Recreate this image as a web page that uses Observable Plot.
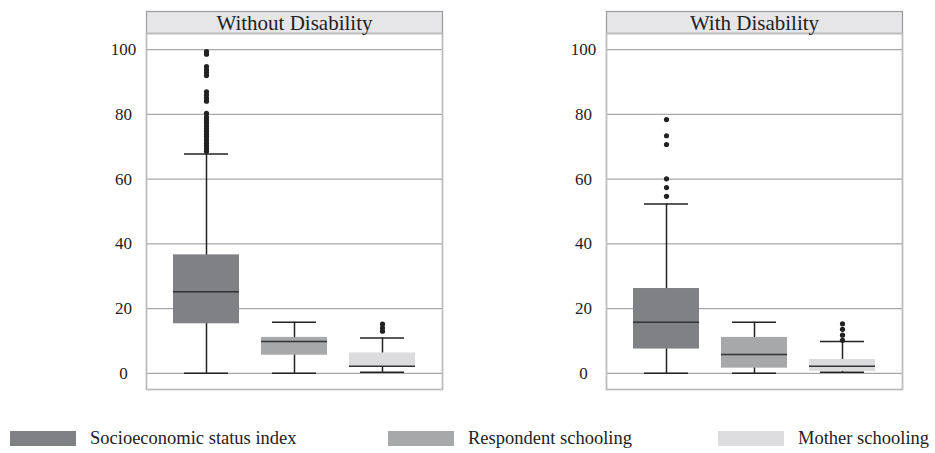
<!DOCTYPE html>
<html>
<head>
<meta charset="utf-8">
<script src="https://cdn.jsdelivr.net/npm/d3@7"></script>
<script src="https://cdn.jsdelivr.net/npm/@observablehq/plot@0.6"></script>
<style>
  html, body { margin: 0; padding: 0; background: #fff; }
  #wrap { position: relative; width: 935px; height: 453px; font-family: "Liberation Serif", serif; color: #222; }
  .item { position: absolute; top: 428px; display: flex; align-items: center; font-size: 18.5px; }
  .sw { width: 66px; height: 15px; margin-right: 14px; }
</style>
</head>
<body>
<div id="wrap"><div id="chart"></div><div id="legend"></div></div>
<script>
const panels = ["Without Disability", "With Disability"];
const series = ["Socioeconomic status index", "Respondent schooling", "Mother schooling"];
const seriesColors = ["#808184", "#a7a8aa", "#dcdcde"];
const yTicks = [0, 20, 40, 60, 80, 100];

// Without Disability (per series)
const lowWithout = [0, 0, 0.3];
const q1Without = [15.3, 5.6, 1.8];
const medianWithout = [25.2, 9.8, 2.2];
const q3Without = [36.6, 11.1, 6.3];
const highWithout = [67.8, 15.8, 10.9];
// With Disability (per series)
const lowWith = [0, 0, 0.3];
const q1With = [7.5, 1.6, 0.6];
const medianWith = [15.8, 5.8, 2.2];
const q3With = [26.2, 11.1, 4.3];
const highWith = [52.3, 15.8, 9.8];

// Outliers
const outSesWithout = [68.6, 69.4, 70.3, 71.2, 72.1, 73.0, 73.9, 74.8, 75.6, 76.5, 77.4, 78.3, 79.2, 80.3,
                       84.1, 85.0, 86.0, 87.0, 92.0, 92.9, 93.8, 94.8, 98.6, 99.4];
const outMotherWithout = [13.0, 14.0, 15.2];
const outSesWith = [54.7, 57.4, 60.1, 70.7, 73.4, 78.4];
const outMotherWith = [10.2, 11.8, 13.6, 15.3];

const stats = [];
series.forEach((s, i) => {
  stats.push({panel: panels[0], series: s, low: lowWithout[i], q1: q1Without[i], median: medianWithout[i], q3: q3Without[i], high: highWithout[i]});
  stats.push({panel: panels[1], series: s, low: lowWith[i], q1: q1With[i], median: medianWith[i], q3: q3With[i], high: highWith[i]});
});
const outliers = [
  ...outSesWithout.map(v => ({panel: panels[0], series: series[0], value: v})),
  ...outMotherWithout.map(v => ({panel: panels[0], series: series[2], value: v})),
  ...outSesWith.map(v => ({panel: panels[1], series: series[0], value: v})),
  ...outMotherWith.map(v => ({panel: panels[1], series: series[2], value: v}))
];

const H = 400, MT = 33, MB = 11;
const chart = Plot.plot({
  width: 935,
  height: H,
  marginLeft: 146,
  marginRight: 33,
  marginTop: MT,
  marginBottom: MB,
  style: {fontFamily: "Liberation Serif, serif", fontSize: "17px", color: "#222", background: "#fff"},
  fx: {domain: panels, paddingInner: 164 / 460, paddingOuter: 0, label: null},
  x: {domain: series, paddingInner: 0.25, paddingOuter: 0.305, axis: null},
  y: {domain: [-5, 105], label: null},
  color: {domain: series, range: seriesColors},
  marks: [
    Plot.frame({fill: "#e6e6e8", stroke: "#9c9c9c", strokeWidth: 1.2, insetTop: -22, insetBottom: H - MT - MB}),
    Plot.gridY(yTicks, {stroke: "#a8a8a8", strokeOpacity: 1, strokeWidth: 1.2}),
    Plot.frame({stroke: "#bdbdbd", strokeWidth: 1.8}),
    Plot.axisFx({anchor: "top", tickSize: 0, tickPadding: 4, fontSize: 21, label: null}),
    Plot.axisY(yTicks, {facetAnchor: null, tickSize: 0, tickPadding: 23, textAnchor: "middle", fontSize: 17, label: null}),
    Plot.ruleX(stats, {fx: "panel", x: "series", y1: "low", y2: "high", stroke: "#222", strokeWidth: 1.5}),
    Plot.tickY(stats, {fx: "panel", x: "series", y: "low", stroke: "#222", strokeWidth: 1.5, inset: 11}),
    Plot.tickY(stats, {fx: "panel", x: "series", y: "high", stroke: "#222", strokeWidth: 1.5, inset: 11}),
    Plot.barY(stats, {fx: "panel", x: "series", y1: "q1", y2: "q3", fill: "series"}),
    Plot.tickY(stats, {fx: "panel", x: "series", y: "median", stroke: "#333", strokeWidth: 1.5}),
    Plot.dot(outliers, {fx: "panel", x: "series", y: "value", r: 2.6, fill: "#222", stroke: "none"})
  ]
});
document.getElementById("chart").appendChild(chart);

const legendLefts = [10, 388, 718];
const legend = document.getElementById("legend");
series.forEach((s, i) => {
  const item = document.createElement("div");
  item.className = "item";
  item.style.left = legendLefts[i] + "px";
  const sw = document.createElement("div");
  sw.className = "sw";
  sw.style.background = seriesColors[i];
  const t = document.createElement("span");
  t.textContent = s;
  item.appendChild(sw);
  item.appendChild(t);
  legend.appendChild(item);
});
</script>
</body>
</html>
